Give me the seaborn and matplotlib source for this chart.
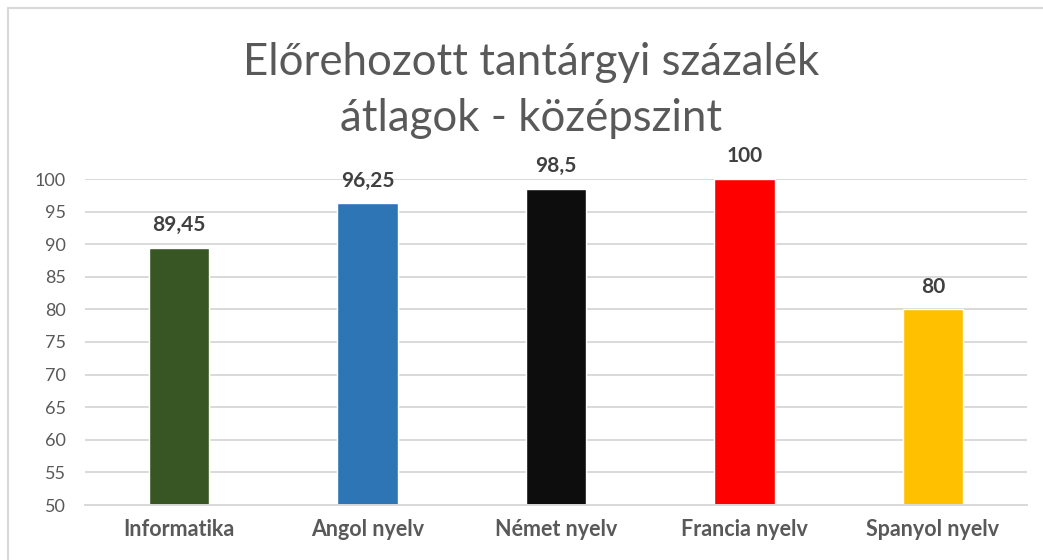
import matplotlib
matplotlib.use("Agg")
import matplotlib.pyplot as plt
import seaborn as sns
import pandas as pd
from matplotlib.lines import Line2D

categories = ["Informatika", "Angol nyelv", "Német nyelv", "Francia nyelv", "Spanyol nyelv"]
values = [89.45, 96.25, 98.5, 100, 80]
value_labels = ["89,45", "96,25", "98,5", "100", "80"]
colors = ["#375623", "#2E75B6", "#0D0D0D", "#FF0000", "#FFC000"]
yticks = [50, 55, 60, 65, 70, 75, 80, 85, 90, 95, 100]
title_lines = ["Előrehozott tantárgyi százalék", "átlagok - középszint"]

sns.set_theme(style="white")
plt.rcParams['font.family'] = ['Lato', 'DejaVu Sans']

df = pd.DataFrame({"cat": categories, "val": values})

fig = plt.figure(figsize=(10.43, 5.6), dpi=100)
ax = fig.add_axes([85/1043, 1-505/560, (1027-85)/1043, (505-179)/560])

sns.barplot(data=df, x="cat", y="val", hue="cat", palette=colors, legend=False,
            width=0.32, ax=ax, saturation=1)

ax.set_ylim(50, 100)
ax.set_yticks(yticks)
ax.set_xlim(-0.5, 4.5)
ax.yaxis.grid(True, color="#D9D9D9", linewidth=1.4)
ax.set_axisbelow(True)
for s in ["top", "right", "left"]:
    ax.spines[s].set_visible(False)
ax.spines["bottom"].set_color("#D9D9D9")
ax.spines["bottom"].set_linewidth(1.4)
ax.set_xlabel("")
ax.set_ylabel("")
ax.tick_params(axis="y", length=0, labelsize=13, labelcolor="#595959", pad=14)
ax.tick_params(axis="x", length=0, labelsize=15.5, labelcolor="#595959", pad=10)
for lbl in ax.get_xticklabels():
    lbl.set_fontweight("bold")

for container, lab in zip(ax.containers, value_labels):
    ax.bar_label(container, labels=[lab], padding=9, fontsize=15,
                 fontweight="bold", color="#404040")

for line, yb in zip(title_lines, [75, 131]):
    fig.text(531/1043, 1-yb/560, line, ha="center", va="baseline", fontsize=31.5,
             color="#595959", fontweight="normal")

fig.add_artist(Line2D([8/1043, 1], [1-8/560, 1-8/560], color="#D9D9D9", linewidth=1.5,
                      transform=fig.transFigure))
fig.add_artist(Line2D([8/1043, 8/1043], [0, 1-8/560], color="#D9D9D9", linewidth=1.5,
                      transform=fig.transFigure))

fig.savefig("out.png", dpi=100, facecolor="white")
